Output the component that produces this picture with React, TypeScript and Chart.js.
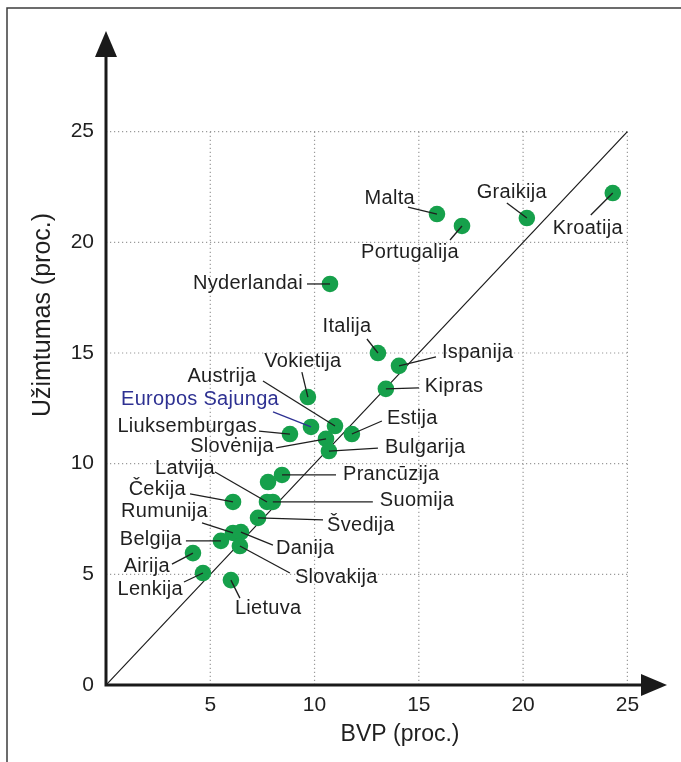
import React, { useEffect, useRef } from "react";
import { Chart, registerables } from "chart.js";

Chart.register(...registerables);

// ---------- data ----------
const countries = [
  "Kroatija", "Graikija", "Malta", "Portugalija", "Nyderlandai", "Italija", "Ispanija",
  "Kipras", "Vokietija", "Austrija", "Europos Sajunga", "Liuksemburgas", "Slovėnija",
  "Estija", "Bulgarija", "Prancūzija", "", "Latvija", "Suomija", "Čekija", "Švedija",
  "Rumunija", "Danija", "Belgija", "Slovakija", "Airija", "Lenkija", "Lietuva",
];
const bvp = [
  24.3, 20.18, 15.87, 17.07, 10.74, 13.04, 14.05,
  13.42, 9.68, 10.98, 9.83, 8.82, 10.55,
  11.79, 10.69, 8.44, 7.77, 7.72, 8.0, 6.09, 7.29,
  6.09, 6.47, 5.51, 6.42, 4.17, 4.65, 5.99,
];
const employment = [
  22.23, 21.1, 21.28, 20.74, 18.12, 15.0, 14.42,
  13.38, 13.01, 11.7, 11.66, 11.34, 11.12,
  11.34, 10.57, 9.49, 9.17, 8.27, 8.27, 8.27, 7.55,
  6.87, 6.91, 6.51, 6.28, 5.96, 5.06, 4.74,
];
const xTickValues = [5, 10, 15, 20, 25];
const yTickValues = [0, 5, 10, 15, 20, 25];
const gridValues = [5, 10, 15, 20, 25];
const diagonalEnds = [0, 25];
const xTitle = "BVP (proc.)";
const yTitle = "Užimtumas (proc.)";
const highlighted = "Europos Sajunga";

// ---------- label layout (pixel offsets from the point) ----------
// [textDx, textDy, align, lineStartDx, lineStartDy]
type Lay = [number, number, CanvasTextAlign, number, number];
const labelLayout: Record<string, Lay> = {
  "Kroatija": [-25, 35, "center", -22, 22],
  "Graikija": [-15, -26, "center", -20, -15],
  "Malta": [-22, -16, "right", -29, -7],
  "Portugalija": [-52, 27, "center", -12, 14],
  "Nyderlandai": [-27, 0, "right", -23, 0],
  "Italija": [-31, -27, "center", -11, -14],
  "Ispanija": [43, -13, "left", 37, -9],
  "Kipras": [39, -2, "left", 33, -1],
  "Vokietija": [-5, -36, "center", -6, -25],
  "Austrija": [-113, -50, "center", -72, -45],
  "Europos Sajunga": [-111, -27, "center", -38, -15],
  "Liuksemburgas": [-33, -8, "right", -31, -3],
  "Slovėnija": [-52, 8, "right", -50, 9],
  "Estija": [35, -16, "left", 30, -13],
  "Bulgarija": [56, -4, "left", 49, -3],
  "Prancūzija": [61, 0, "left", 54, 0],
  "Latvija": [-82, -33, "center", -52, -30],
  "Suomija": [107, -1, "left", 100, 0],
  "Čekija": [-47, -12, "right", -43, -8],
  "Švedija": [69, 8, "left", 65, 2],
  "Rumunija": [-25, -21, "right", -31, -10],
  "Danija": [35, 16, "left", 32, 13],
  "Belgija": [-39, -1, "right", -35, 0],
  "Slovakija": [55, 31, "left", 50, 27],
  "Airija": [-23, 13, "right", -21, 11],
  "Lenkija": [-20, 16, "right", -19, 9],
  "Lietuva": [4, 28, "left", 9, 18],
};

const FONT = '"Liberation Sans", Arial, Helvetica, sans-serif';
const TEXT = "#1f1f1f";
const GREEN = "#16a04b";
const BLUE = "#2e3192";

const decorPlugin = {
  id: "decor",
  beforeDraw(chart: any) {
    const ctx = chart.ctx as CanvasRenderingContext2D;
    ctx.save();
    ctx.strokeStyle = "#3c3c3c";
    ctx.lineWidth = 1.5;
    ctx.beginPath();
    ctx.moveTo(7, 800);
    ctx.lineTo(7, 8);
    ctx.lineTo(700, 8);
    ctx.stroke();
    ctx.restore();
  },
  afterDatasetsDraw(chart: any) {
    const ctx = chart.ctx as CanvasRenderingContext2D;
    const xs = chart.scales.x;
    const ys = chart.scales.y;
    const a = chart.chartArea;
    const x0 = xs.getPixelForValue(0);
    const y0 = ys.getPixelForValue(0);

    // axes with arrows
    ctx.save();
    ctx.strokeStyle = "#1a1a1a";
    ctx.fillStyle = "#1a1a1a";
    ctx.lineWidth = 3;
    ctx.lineCap = "butt";
    const ah = 26; // arrow length
    const aw = 11; // half width
    ctx.beginPath();
    ctx.moveTo(x0 - 1.5, y0);
    ctx.lineTo(a.right - ah + 2, y0);
    ctx.moveTo(x0, y0 + 1.5);
    ctx.lineTo(x0, a.top + ah - 2);
    ctx.stroke();
    ctx.beginPath();
    ctx.moveTo(a.right, y0);
    ctx.lineTo(a.right - ah, y0 - aw);
    ctx.lineTo(a.right - ah, y0 + aw);
    ctx.closePath();
    ctx.fill();
    ctx.beginPath();
    ctx.moveTo(x0, a.top);
    ctx.lineTo(x0 - aw, a.top + ah);
    ctx.lineTo(x0 + aw, a.top + ah);
    ctx.closePath();
    ctx.fill();
    ctx.restore();

    // leader lines and labels
    ctx.save();
    ctx.font = `20px ${FONT}`;
    (ctx as any).letterSpacing = "0.3px";
    ctx.textBaseline = "middle";
    ctx.lineWidth = 1.3;
    countries.forEach((name, i) => {
      const lay = labelLayout[name];
      if (!lay) return;
      const px = xs.getPixelForValue(bvp[i]);
      const py = ys.getPixelForValue(employment[i]);
      const col = name === highlighted ? BLUE : TEXT;
      ctx.strokeStyle = col;
      ctx.beginPath();
      ctx.moveTo(px + lay[3], py + lay[4]);
      ctx.lineTo(px, py);
      ctx.stroke();
      ctx.fillStyle = col;
      ctx.textAlign = lay[2];
      ctx.fillText(name, px + lay[0], py + lay[1]);
    });
    ctx.restore();
  },
  afterDraw(chart: any) {
    const ctx = chart.ctx as CanvasRenderingContext2D;
    const a = chart.chartArea;
    const xs = chart.scales.x;
    ctx.save();
    ctx.fillStyle = TEXT;
    ctx.textAlign = "center";
    ctx.textBaseline = "middle";
    ctx.font = `23px ${FONT}`;
    ctx.fillText(xTitle, xs.getPixelForValue(14.1), a.bottom + 50);
    ctx.translate(43, 315);
    ctx.rotate(-Math.PI / 2);
    ctx.font = `25px ${FONT}`;
    ctx.fillText(yTitle, 0, 0);
    ctx.restore();
  },
};

export default function App() {
  const ref = useRef<HTMLCanvasElement | null>(null);

  useEffect(() => {
    if (!ref.current) return;
    const gridStyle = {
      type: "line" as const,
      showLine: true,
      borderColor: "#9a9a9a",
      borderWidth: 1.2,
      borderDash: [1.2, 2.8],
      pointRadius: 0,
      fill: false,
    };
    const gridSets: any[] = [];
    gridValues.forEach((v) => {
      gridSets.push({ ...gridStyle, data: [{ x: v, y: 0 }, { x: v, y: 25 }] });
      gridSets.push({ ...gridStyle, data: [{ x: 0, y: v }, { x: 25, y: v }] });
    });

    const chart = new Chart(ref.current, {
      type: "scatter",
      data: {
        datasets: [
          {
            label: "Šalys",
            data: countries.map((_, i) => ({ x: bvp[i], y: employment[i] })),
            backgroundColor: GREEN,
            borderWidth: 0,
            pointRadius: 8.3,
            order: 0,
          },
          {
            type: "line",
            label: "diag",
            data: diagonalEnds.map((v) => ({ x: v, y: v })),
            borderColor: "#1a1a1a",
            borderWidth: 1.2,
            pointRadius: 0,
            showLine: true,
            fill: false,
            order: 1,
          } as any,
          ...gridSets.map((g) => ({ ...g, order: 2 })),
        ],
      },
      options: {
        animation: false,
        responsive: false,
        events: [],
        layout: { padding: { left: 6, top: 31, right: 14, bottom: 0 } },
        plugins: {
          legend: { display: false },
          tooltip: { enabled: false },
        },
        scales: {
          x: {
            type: "linear",
            min: 0,
            max: 26.9,
            grid: { display: false, drawTicks: false },
            border: { display: false },
            ticks: {
              stepSize: 5,
              autoSkip: false,
              maxRotation: 0,
              padding: 8,
              color: TEXT,
              font: { family: FONT, size: 21 },
            },
            afterBuildTicks: (s: any) => {
              s.ticks = xTickValues.map((v) => ({ value: v }));
            },
            afterFit: (s: any) => {
              s.height = 77;
            },
          },
          y: {
            type: "linear",
            min: 0,
            max: 29.55,
            grid: { display: false, drawTicks: false },
            border: { display: false },
            ticks: {
              stepSize: 5,
              autoSkip: false,
              padding: 12,
              color: TEXT,
              font: { family: FONT, size: 21 },
            },
            afterBuildTicks: (s: any) => {
              s.ticks = yTickValues.map((v) => ({ value: v }));
            },
            afterFit: (s: any) => {
              s.width = 100;
            },
          },
        },
      },
      plugins: [decorPlugin],
    });
    return () => chart.destroy();
  }, []);

  return (
    <div style={{ position: "fixed", left: 0, top: 0, width: 681, height: 762, background: "#fff" }}>
      <canvas ref={ref} width={681} height={762} />
    </div>
  );
}
